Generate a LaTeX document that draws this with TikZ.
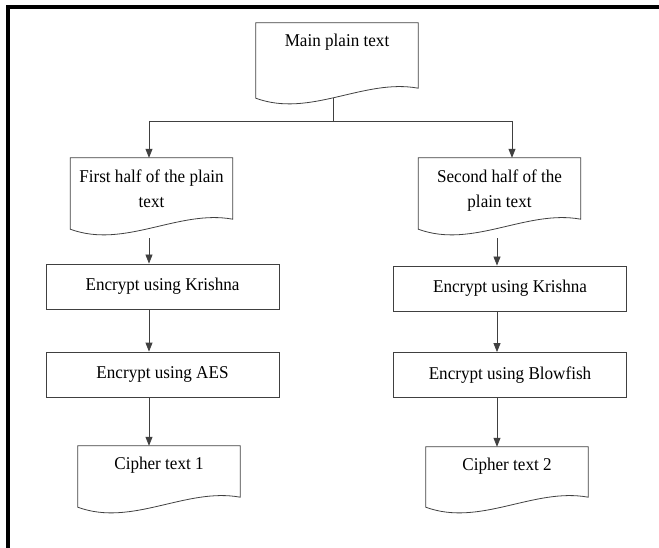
\documentclass[tikz,border=0pt]{standalone}
\usepackage{fontspec}
\setmainfont{Liberation Serif}[FakeStretch=0.95]
\usetikzlibrary{calc,arrows.meta}

\colorlet{linegray}{black!75}

% document symbol: flat top, wavy bottom (right end sits higher)
\newcommand{\docoutline}[1]{%
    \draw[doc line] (#1.south west) -- (#1.north west) -- (#1.north east)
        -- ($(#1.south east)+(0,-10)$)
        .. controls ($(#1.south)+(27,-20)$) and ($(#1.south)+(-27,20)$) ..
        (#1.south west) -- cycle;}

\begin{document}
\begin{tikzpicture}[
    x=1pt, y=-1pt,
    font=\fontsize{18}{25}\selectfont,
    doc line/.style={draw=linegray, line width=0.8pt},
    % Style for process boxes
    procbox/.style={draw=linegray, line width=0.8pt, rectangle,
        minimum width=233pt, minimum height=45pt, inner sep=0pt},
    % Style for the document symbols (text goes in a separate node)
    docbox/.style={rectangle, inner sep=0pt, minimum width=162pt,
        minimum height=#1},
    doc text/.style={anchor=north, inner sep=0pt, align=center},
    line/.style={draw=linegray, line width=0.8pt},
    arrow/.style={line, -{Triangle[length=9pt,width=7pt]}}
]
    \useasboundingbox (0,0) rectangle (659,548);

    % ==========================
    % Frame
    % ==========================
    \draw[line width=4pt] (7.5,548) -- (7.5,7) -- (659,7);

    % ==========================
    % Main plain text
    % ==========================
    \node[docbox=75pt] (main) at (337,60.5) {};
    \docoutline{main}
    \node[doc text] (main-t) at ($(main.north)+(0,11.5)$) {Main plain text};

    \coordinate (split) at (333,121);
    \coordinate (lsplit) at (149,121);
    \coordinate (rsplit) at (512,121);
    \coordinate (rcol) at (497,121);

    % ==========================
    % Left branch
    % ==========================
    \node[docbox=71pt] (fh) at (151.5,193.5) {};
    \docoutline{fh}
    \node[doc text] (fh-t) at ($(fh.north)+(0,11.5)$) {First half of the plain\\text};

    \node[procbox] (kl) at (162.5,286.5) {Encrypt using Krishna};
    \node[procbox] (al) at (162.5,374.5) {Encrypt using AES};

    \node[docbox=61pt] (c1) at (159,476.5) {};
    \docoutline{c1}
    \node[doc text] (c1-t) at ($(c1.north)+(0,11)$) {Cipher text 1};

    % ==========================
    % Right branch
    % ==========================
    \node[docbox=71pt] (sh) at (499.5,193.5) {};
    \docoutline{sh}
    \node[doc text] (sh-t) at ($(sh.north)+(0,11.5)$) {Second half of the\\plain text};

    \node[procbox] (kr) at (510,288.5) {Encrypt using Krishna};
    \node[procbox] (br) at (510,375) {Encrypt using Blowfish};

    \node[docbox=60pt] (c2) at (507,477) {};
    \docoutline{c2}
    \node[doc text] (c2-t) at ($(c2.north)+(0,11)$) {Cipher text 2};

    % ==========================
    % Connectors
    % ==========================
    \draw[line] (main.south -| split) -- (split);
    \draw[line] (lsplit) -- (rsplit);
    \draw[arrow] (lsplit) -- (fh.north -| lsplit);
    \draw[arrow] (rsplit) -- (sh.north -| rsplit);

    \draw[arrow] ($(fh.south -| lsplit)+(0,9)$) -- (kl.north -| lsplit);
    \draw[arrow] (kl.south -| lsplit) -- (al.north -| lsplit);
    \draw[arrow] (al.south -| lsplit) -- (c1.north -| lsplit);

    \draw[arrow] ($(sh.south -| rcol)+(0,9)$) -- (kr.north -| rcol);
    \draw[arrow] (kr.south -| rcol) -- (br.north -| rcol);
    \draw[arrow] (br.south -| rcol) -- (c2.north -| rcol);

\end{tikzpicture}
\end{document}
